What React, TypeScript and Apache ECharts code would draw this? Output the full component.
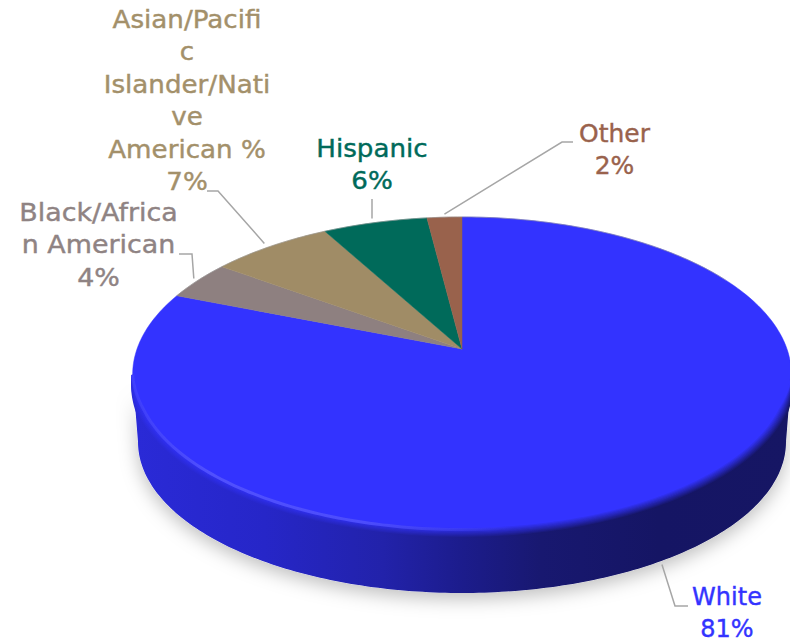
import React, { useEffect, useRef } from "react";
import * as echarts from "echarts";

const categories = ["White", "Black/African American", "Asian/Pacific Islander/Native American %", "Hispanic", "Other"];
const values = [81, 4, 7, 6, 2];
const sliceColors = ["#3333ff", "#8e8080", "#a08c66", "#006a5a", "#99624c"];
const textColors = ["#3333ff", "#8f8383", "#a3906a", "#006a5a", "#99624c"];
const wrappedNames = [
  "White",
  "Black/Africa\nn American",
  "Asian/Pacifi\nc\nIslander/Nati\nve\nAmerican %",
  "Hispanic",
  "Other",
];

// projection of the tilted disc
const CX = 462, CY = 349, K = 325, H = 153.4, P = 0.162;
const RIM_CY = 375, RIM_RX = 329, RIM_RY = 158;
const BASE_CY = 442, BASE_RX = 324, BASE_RY = 151;
const total = values.reduce((a, b) => a + b, 0);
const cum: number[] = [];
values.reduce((acc, v, i) => { cum[i] = acc; return acc + v; }, 0);

function proj(frac: number, extra = 0): [number, number] {
  const t = 2 * Math.PI * frac;
  const u = Math.sin(t), v = Math.cos(t);
  const w = 1 + P * v;
  return [CX + (K * u) / w, CY - (H * v) / w + extra];
}
function base(frac: number): [number, number] {
  const t = 2 * Math.PI * frac;
  return [CX + BASE_RX * Math.sin(t), BASE_CY - BASE_RY * Math.cos(t)];
}
// rim point pushed along the rim's normal (positive = outward), fading at the two extremes
function rimOffset(frac: number, s: number): [number, number] {
  const [x, y] = proj(frac);
  const dx = (x - CX) / (RIM_RX * RIM_RX), dy = (y - RIM_CY) / (RIM_RY * RIM_RY);
  const len = Math.hypot(dx, dy) || 1;
  const c = Math.cos(2 * Math.PI * frac);
  const fade = Math.max(0, Math.min(1, (-c - 0.16) / 0.22));
  return [x + (dx / len) * s * fade, y + (dy / len) * s * fade];
}
function arc(a: number, b: number, fn: (f: number) => [number, number]) {
  const n = Math.max(4, Math.ceil(Math.abs(b - a) * 360));
  const pts: [number, number][] = [];
  for (let i = 0; i <= n; i++) pts.push(fn(a + ((b - a) * i) / n));
  return pts;
}

const FRONT_A = 0.2763, FRONT_B = 0.7237;

const labelLayout = [
  { x: 727, y: 613, sx: 1, elbow: [[688, 606], [675, 606]], extra: 59, gap: [-11, 10] },
  { x: 98.5, y: 245, sx: 1.12, elbow: [[179, 254], [192, 254]], extra: 0, gap: [-4, -2] },
  { x: 187, y: 101, sx: 1.09, elbow: [[207, 191], [218, 191]], extra: 0, gap: [-6, -3] },
  { x: 372, y: 165, sx: 1.09, elbow: [[372, 199]], extra: 0, gap: [-3, -4] },
  { x: 614.5, y: 149.5, sx: 1.04, elbow: [[573, 142], [562, 142]], extra: 0, gap: [0, -3] },
];

const sideStops = [
  { offset: 0, color: [42, 42, 215] },
  { offset: 0.2, color: [38, 38, 200] },
  { offset: 0.38, color: [34, 34, 170] },
  { offset: 0.5, color: [28, 28, 140] },
  { offset: 0.62, color: [24, 24, 112] },
  { offset: 0.8, color: [21, 21, 100] },
  { offset: 1, color: [22, 22, 100] },
];
const faceRGB = [51, 51, 255];
const sideGradient = (t: number) => ({
  type: "linear", x: 0, y: 0, x2: 1, y2: 0,
  colorStops: sideStops.map((s) => {
    const c = s.color.map((c0, j) => Math.round(c0 + (faceRGB[j] - c0) * (1 - t)));
    return { offset: s.offset, color: `rgb(${c[0]},${c[1]},${c[2]})` };
  }),
});
const highlight = {
  type: "linear", x: 0, y: 0, x2: 1, y2: 0,
  colorStops: [
    { offset: 0, color: "rgba(84,84,255,0.35)" },
    { offset: 0.12, color: "rgba(84,84,255,0.9)" },
    { offset: 0.35, color: "rgba(84,84,255,0.8)" },
    { offset: 0.58, color: "rgba(84,84,255,0)" },
    { offset: 1, color: "rgba(84,84,255,0)" },
  ],
};

function renderItem(params: any, api: any) {
  const i = params.dataIndex;
  const val = api.value(0);
  const a = cum[i] / total;
  const b = (cum[i] + val) / total;
  const children: any[] = [];

  const fa = Math.max(a, FRONT_A), fb = Math.min(b, FRONT_B);
  const hasFront = fb > fa;

  // side wall for the part of the slice that faces the viewer
  if (hasFront) {
    const lower = arc(0.25, 0.75, base);
    const upper = arc(fb, fa, (f) => proj(f));
    const wall = [...lower, ...upper];
    children.push({
      type: "polygon", shape: { points: wall },
      style: { fill: "#ffffff", shadowBlur: 18, shadowColor: "rgba(0,0,0,0.25)", shadowOffsetY: 6 },
    });
    children.push({ type: "polygon", shape: { points: wall }, style: { fill: sideGradient(1) } });
  }

  // top face
  const rim = arc(a, b, (f) => proj(f));
  children.push({
    type: "polygon",
    shape: { points: [[CX, CY], ...rim] },
    style: { fill: sliceColors[i], stroke: sliceColors[i], lineWidth: 0.5 },
  });

  // thin grey edge along the far side of the disc
  const ba = a, bb = i === 0 ? Math.min(b, 0.17) : b;
  children.push({
    type: "polyline",
    shape: { points: arc(ba, bb, (f) => proj(f)) },
    style: { stroke: "rgba(150,150,150,0.55)", lineWidth: 1, fill: "none" },
  });

  // soft bevel between face and wall
  if (hasFront) {
    const N = 9;
    for (let s = N; s >= 0; s--) {
      const off = -5 + s * 1.1;
      children.push({
        type: "polyline",
        shape: { points: arc(fa, fb, (f) => rimOffset(f, off)) },
        style: { stroke: sideGradient(s / N), lineWidth: 1.8, fill: "none" },
      });
    }
    children.push({
      type: "polyline",
      shape: { points: arc(fa, fb, (f) => rimOffset(f, -2.5)) },
      style: { stroke: highlight, lineWidth: 3, fill: "none" },
    });
  }

  // leader line
  const lay = labelLayout[i];
  const mid = (a + b) / 2;
  const end = proj(mid, lay.extra);
  children.push({
    type: "polyline",
    shape: { points: [...lay.elbow, [end[0] + lay.gap[0], end[1] + lay.gap[1]]] },
    style: { stroke: "#a6a6a6", lineWidth: 1.5, fill: "none" },
  });

  // label
  children.push({
    type: "text",
    x: lay.x, y: lay.y, scaleX: lay.sx,
    style: {
      text: `${wrappedNames[i]}\n${val}%`,
      fill: textColors[i],
      font: '24px "DejaVu Sans"',
      lineHeight: 32.5,
      align: "center",
      verticalAlign: "middle",
      stroke: textColors[i],
      lineWidth: 0.4,
    },
  });
  return { type: "group", children };
}

export default function App() {
  const ref = useRef<HTMLDivElement>(null);
  useEffect(() => {
    document.body.style.margin = "0";
    const chart = echarts.init(ref.current!, undefined, { renderer: "svg" });
    chart.setOption({
      animation: false,
      backgroundColor: "#ffffff",
      series: [
        {
          type: "custom",
          coordinateSystem: "none",
          renderItem,
          clip: false,
          data: values.map((v, i) => ({ name: categories[i], value: [v] })),
        },
      ],
    });
    return () => chart.dispose();
  }, []);
  return <div ref={ref} style={{ width: 790, height: 643 }} />;
}
